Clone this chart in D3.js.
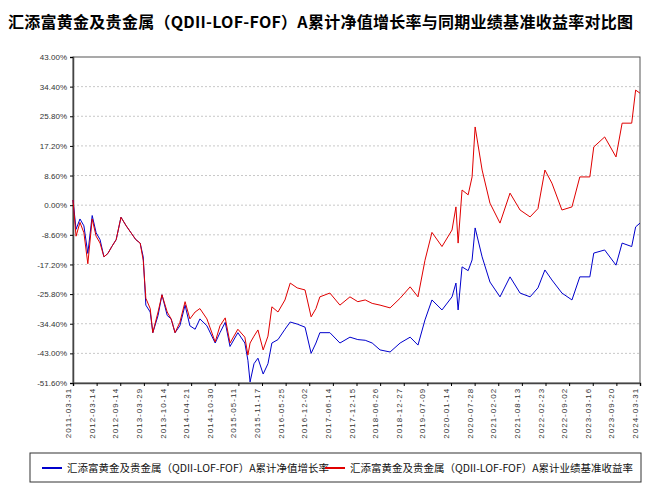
<!DOCTYPE html>
<html><head><meta charset="utf-8">
<script src="https://cdn.jsdelivr.net/npm/d3@7"></script>
<style>body{margin:0;background:#fff}</style>
</head><body><div id="chart"></div>
<script>
// tick labels on the time axis (evenly spaced)
const dateLabels = ['2011-03-31','2012-03-14','2012-09-14','2013-03-29','2013-10-14','2014-04-21','2014-10-30','2015-05-11','2015-11-17','2016-05-25','2016-12-02','2017-06-14','2017-12-15','2018-06-26','2018-12-27','2019-07-09','2020-01-14','2020-07-28','2021-02-02','2021-08-13','2022-02-23','2022-09-02','2023-03-16','2023-09-20','2024-03-31'];
const yTicks = [43, 34.4, 25.8, 17.2, 8.6, 0, -8.6, -17.2, -25.8, -34.4, -43, -51.6];

// time position (fractional year) and the two series (%)
const years = [2011.25,2011.32,2011.41,2011.50,2011.59,2011.69,2011.78,2011.87,2011.96,2012.05,2012.14,2012.24,2012.35,2012.47,2012.58,2012.69,2012.79,2012.86,2012.92,2013.02,2013.08,2013.20,2013.29,2013.41,2013.50,2013.59,2013.70,2013.82,2013.93,2014.05,2014.16,2014.32,2014.51,2014.62,2014.74,2014.85,2015.03,2015.19,2015.26,2015.31,2015.40,2015.49,2015.61,2015.72,2015.81,2015.95,2016.11,2016.23,2016.39,2016.57,2016.71,2016.82,2016.91,2017.14,2017.37,2017.60,2017.78,2017.95,2018.11,2018.29,2018.52,2018.75,2018.98,2019.16,2019.32,2019.48,2019.71,2019.94,2020.03,2020.08,2020.17,2020.31,2020.40,2020.47,2020.63,2020.81,2021.04,2021.27,2021.50,2021.73,2021.91,2022.07,2022.23,2022.46,2022.69,2022.87,2023.10,2023.19,2023.44,2023.70,2023.84,2024.06,2024.15,2024.25];
const benchmark = [1.5,-9,-5,-8,-17,-4,-9,-11,-15,-14,-12,-10,-3.5,-6,-8,-10,-11,-16,-27,-30,-37,-31,-26,-31,-33,-37,-34,-28,-33,-31,-30,-33,-39.7,-35,-32.7,-40,-36,-38.3,-43.5,-40,-38,-36.2,-42,-38,-29.5,-31,-27.5,-22.6,-24,-24.6,-32.4,-30,-26.6,-25.5,-29,-26.6,-28,-27.5,-28.5,-29,-29.8,-27,-23.7,-26.6,-16,-7.9,-12,-7.2,-0.5,-11,4.4,3,8.2,22.7,10.2,0.6,-5.2,3.5,-1.4,-3.4,-1,10.2,6.4,-1.4,-0.5,8.2,8.2,16.9,19.8,14,23.8,23.8,33.4,32.5];
const navGrowth = [1.5,-7,-4,-6,-14,-3,-8,-10,-15,-14,-12,-10,-3.5,-6,-8,-10,-11,-15,-29,-31,-37,-32,-26,-32,-33,-37,-35,-29,-35,-36,-33,-35,-40,-37,-34,-41,-37,-40,-45,-51.3,-46,-44.4,-49,-46,-40,-39,-36,-33.9,-34.5,-35.4,-43,-40,-37,-37,-40,-38.3,-39,-39.2,-40,-42,-42.6,-40,-38.3,-40.6,-33.3,-27.5,-30.4,-26.6,-22.6,-30.4,-17.9,-19,-15.9,-6.6,-15,-22.3,-26.6,-20.8,-25.5,-26.6,-24,-18.8,-21.7,-25.5,-27.5,-20.8,-20.8,-13.9,-13,-17.4,-11,-12,-6.3,-5.2];
const seriesNames = ['汇添富黄金及贵金属（QDII-LOF-FOF）A累计净值增长率','汇添富黄金及贵金属（QDII-LOF-FOF）A累计业绩基准收益率'];
const colors = ['#0000cc', '#e00000'];

const W = 667, H = 500;
const m = {left: 73, right: 27, top: 57, bottom: 117};
const svg = d3.select('#chart').append('svg').attr('width', W).attr('height', H)
  .style('font-family', '"DejaVu Sans", sans-serif');

const x = d3.scaleLinear()
  .domain([2011.25, 2024.25])
  .range([m.left, W - m.right]);
const y = d3.scaleLinear().domain([-51.6, 43]).range([H - m.bottom, m.top]);
const tickYears = dateLabels.map((d, i) => 2011.25 + i * 13 / (dateLabels.length - 1));

svg.append('text').attr('x', 8).attr('y', 28)
  .attr('font-size', 16).attr('font-weight', 'bold')
  .attr('font-family', '"Noto Sans CJK SC", sans-serif')
  .attr('textLength', 625)
  .text('汇添富黄金及贵金属（QDII-LOF-FOF）A累计净值增长率与同期业绩基准收益率对比图');

// grid
svg.append('g').selectAll('line').data(yTicks.slice(1, -1)).enter().append('line')
  .attr('x1', m.left).attr('x2', W - m.right)
  .attr('y1', d => y(d)).attr('y2', d => y(d))
  .attr('stroke', '#c8c8c8').attr('stroke-dasharray', '2,2');

svg.append('rect').attr('x', m.left).attr('y', m.top)
  .attr('width', W - m.left - m.right).attr('height', H - m.top - m.bottom)
  .attr('fill', 'none').attr('stroke', '#555');

const yAxis = svg.append('g').attr('transform', `translate(${m.left},0)`)
  .call(d3.axisLeft(y).tickValues(yTicks).tickSize(3).tickFormat(d => d.toFixed(2) + '%'));
yAxis.select('.domain').attr('stroke', '#444').attr('stroke-width', 1.5);
yAxis.selectAll('text').attr('font-size', 8).attr('fill', '#333');

const xAxis = svg.append('g').attr('transform', `translate(0,${H - m.bottom})`)
  .call(d3.axisBottom(x).tickValues(tickYears).tickSize(3).tickFormat((d, i) => dateLabels[i]));
xAxis.select('.domain').attr('stroke', '#444').attr('stroke-width', 1.5);
xAxis.selectAll('text').attr('font-size', 8).attr('fill', '#333')
  .attr('transform', 'rotate(-90)').attr('text-anchor', 'end')
  .attr('dx', '-0.6em').attr('dy', '-0.3em').attr('y', 0).attr('x', 0)
  .style('letter-spacing', '1px');

const line = d3.line().x((d, i) => x(years[i])).y(d => y(d));
[navGrowth, benchmark].forEach((s, k) => {
  svg.append('path').datum(s).attr('d', line)
    .attr('fill', 'none').attr('stroke', colors[k]).attr('stroke-width', 1);
});

// legend
const lg = svg.append('g');
lg.append('rect').attr('x', 30).attr('y', 453).attr('width', 611).attr('height', 29)
  .attr('fill', 'none').attr('stroke', '#333');
const lx = [42, 325];
seriesNames.forEach((n, k) => {
  lg.append('line').attr('x1', lx[k]).attr('x2', lx[k] + 20).attr('y1', 468).attr('y2', 468)
    .attr('stroke', colors[k]).attr('stroke-width', 2);
  lg.append('text').attr('x', lx[k] + 25).attr('y', 472).attr('font-size', 10.5)
    .attr('font-family', '"Noto Sans CJK SC", sans-serif').attr('fill', '#111').text(n);
});
</script></body></html>
